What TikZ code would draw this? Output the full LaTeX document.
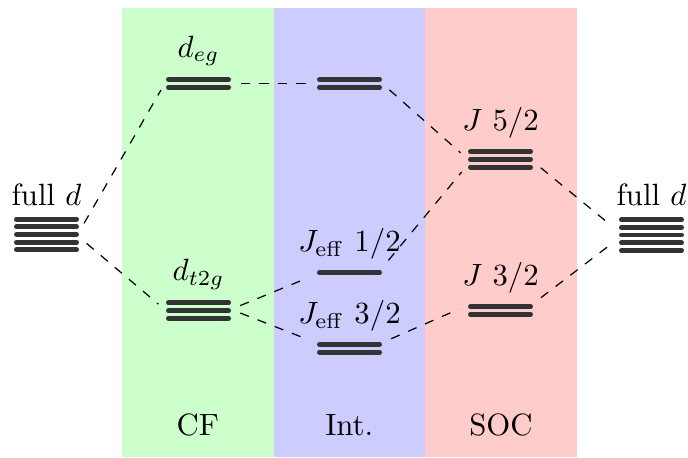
\documentclass[tikz,border=0pt]{standalone}
\usetikzlibrary{calc}
\newcommand\mklevel[5]{%
  \node[levelbox, minimum height={(#4-1)*2.5pt+1.6pt},
        label={[lvlabel]above:#5}] (#1) at (#2,#3) {};
  \foreach \i in {1,...,#4}{
    \draw[levelline] ([xshift=0.8pt,yshift={((#4+1)/2-\i)*2.5pt}]#1.west)
      -- ([xshift=-0.8pt,yshift={((#4+1)/2-\i)*2.5pt}]#1.east);
  }%
}
\begin{document}
\begin{tikzpicture}[x=0.325pt,y=-0.325pt,
  levelline/.style={line width=1.6pt, line cap=round, draw=black!80},
  levelbox/.style={inner sep=0pt, outer sep=0pt, minimum width=21.125pt},
  lvlabel/.style={inner sep=0.3333em},
  conn/.style={dashed, thin, shorten >=3.25pt, shorten <=3.25pt},
  collabel/.style={anchor=base, inner sep=0pt}]
\useasboundingbox (0,0) rectangle (688,457);
% bands
\fill[green!20] (122,8) rectangle (273.5,457);
\fill[blue!20] (273.5,8) rectangle (425,457);
\fill[red!20] (425,8) rectangle (577,457);
\node[collabel] (cf) at (197.75,435) {CF};
\node[collabel] (int) at (349.25,435) {Int.};
\node[collabel] (soc) at (501,435) {SOC};
% levels
\mklevel{fullL}{46.5}{234.5}{5}{full $d$}
\mklevel{fullR}{651.5}{235}{5}{full $d$}
\mklevel{deg}{198.5}{83.3}{2}{$d_{eg}$}
\mklevel{dtg}{198.5}{310.6}{3}{$d_{t2g}$}
\mklevel{intU}{349.5}{83.3}{2}{}
\mklevel{jeffA}{349.5}{272.7}{1}{$J_{\mathrm{eff}}~1/2$}
\mklevel{jeffB}{349.5}{348.3}{2}{$J_{\mathrm{eff}}~3/2$}
\mklevel{jfive}{500.5}{159.4}{3}{$J~5/2$}
\mklevel{jthree}{500.5}{310.5}{2}{$J~3/2$}
% connectors
\draw[conn] ([yshift=0.8pt]fullL.east) -- ([yshift=0.65pt]deg.west);
\draw[conn] ([yshift=-0.8pt]fullL.east) -- (dtg.west);
\draw[conn] (deg.east) -- (intU.west);
\draw[conn] (intU.east) -- (jfive.west);
\draw[conn] ([yshift=0.4pt]dtg.east) -- ([yshift=-0.45pt]jeffA.west);
\draw[conn] ([yshift=0.4pt]dtg.east) -- ([yshift=1.7pt]jeffB.west);
\draw[conn] ([yshift=1.5pt]jeffA.east) -- ([yshift=-1.6pt]jfive.west);
\draw[conn] ([yshift=1.8pt]jeffB.east) -- ([yshift=1.75pt]jthree.west);
\draw[conn] ([yshift=-0.65pt]jfive.east) -- ([yshift=1pt]fullR.west);
\draw[conn] ([yshift=2.2pt]jthree.east) -- ([yshift=-1pt]fullR.west);
\end{tikzpicture}
\end{document}
